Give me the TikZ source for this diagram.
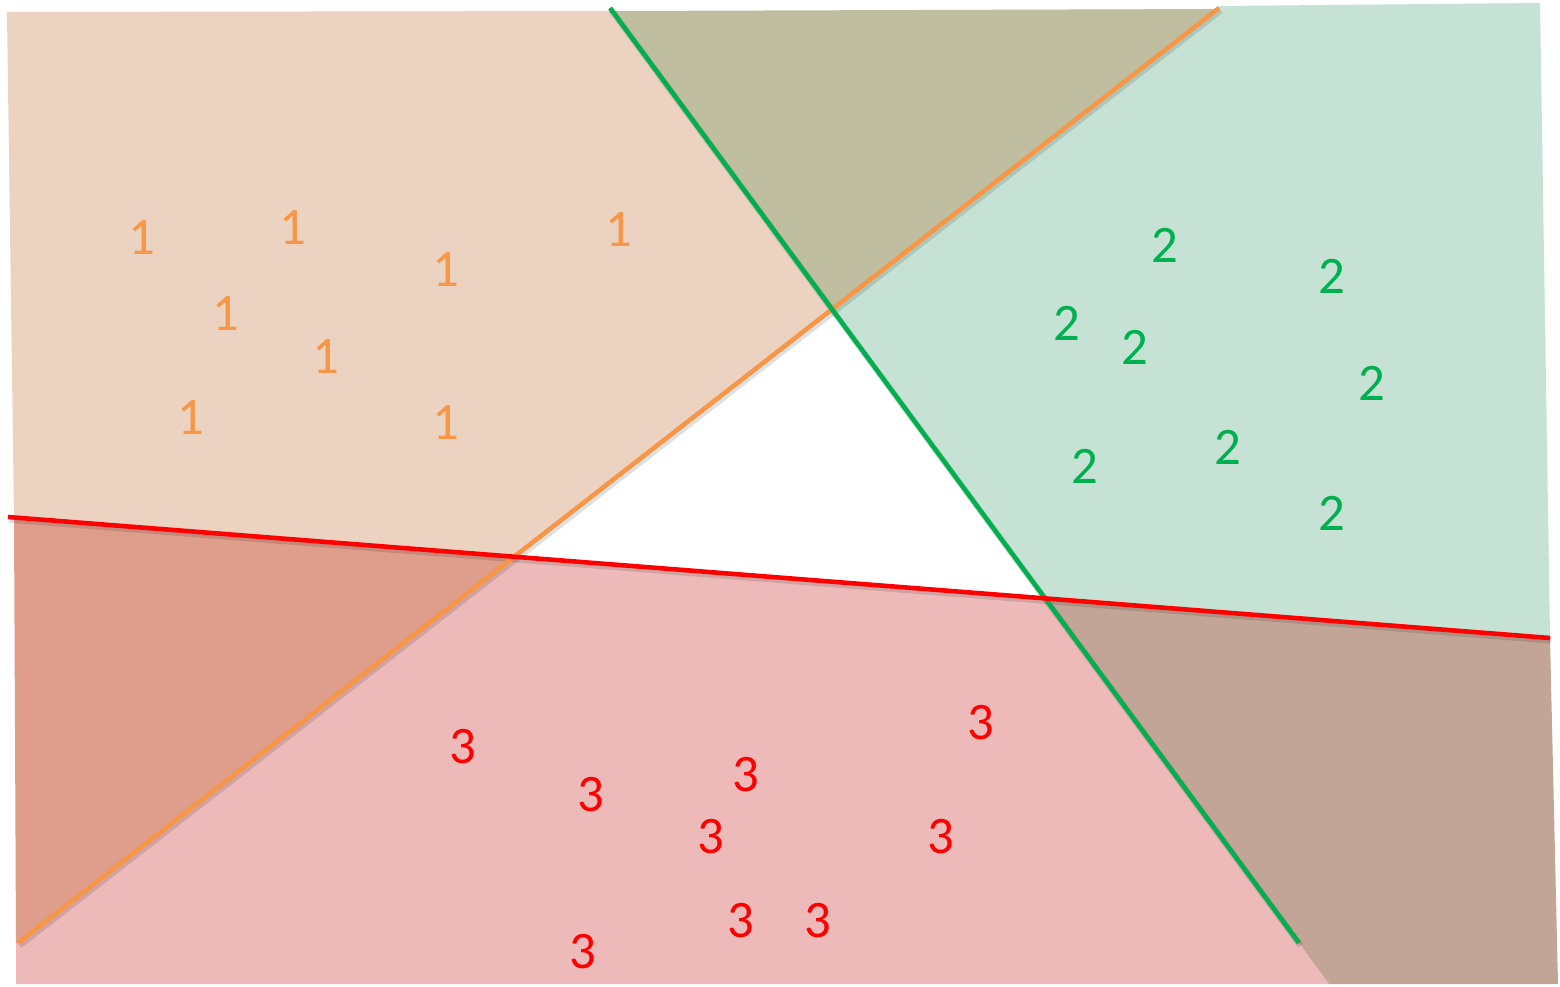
\documentclass[tikz,border=0pt]{standalone}
\usepackage{fontspec}
\setmainfont{Carlito}
\usepackage{xcolor}
\usetikzlibrary{calc}

\definecolor{oneline}{HTML}{F79646}
\definecolor{twoline}{HTML}{00B050}
\definecolor{threeline}{HTML}{FF0000}
\definecolor{onefill}{HTML}{ECD3C1}
\definecolor{twofill}{HTML}{C5E2D4}
\definecolor{threefill}{HTML}{EEB9B9}
\definecolor{onetwofill}{HTML}{BFBEA0}
\definecolor{twothreefill}{HTML}{C3A597}
\definecolor{onethreefill}{HTML}{DF9D8B}

\tikzset{
  border/.style={line width=1.3pt, line cap=butt},
  shade line/.style={line width=1.8pt, black, opacity=0.12},
  digit/.style={inner sep=0pt, font=\fontsize{15}{18}\selectfont}
}

\begin{document}
\begin{tikzpicture}[x=0.1mm, y=-0.1mm]
  \useasboundingbox[fill=white] (0,0) rectangle (1560,986);
  % end points of the three separating lines
  \coordinate (oA) at (18,943);  \coordinate (oB) at (1219,8);
  \coordinate (gA) at (610,8);   \coordinate (gB) at (1299,943);
  \coordinate (rA) at (8,517);   \coordinate (rB) at (1550,638);
  \coordinate (OG) at (intersection of oA--oB and gA--gB);
  \coordinate (OR) at (intersection of oA--oB and rA--rB);
  \coordinate (GR) at (intersection of gA--gB and rA--rB);
  \coordinate (gC) at ($(gA)!1.044!(gB)$);
  % regions
  \fill[onefill] (7,12) -- (610,11) -- (OG) -- (OR) -- (14,518) -- cycle;
  \fill[onetwofill] (610,11) -- (1219,9) -- (OG) -- cycle;
  \fill[twofill] (1219,6) -- (1540,3) -- (1550,637) -- (GR) -- (OG) -- cycle;
  \fill[onethreefill] (14,518) -- (OR) -- (oA) -- (16,943) -- cycle;
  \fill[threefill] (16,943) -- (oA) -- (OR) -- (GR) -- (gC) -- (16,984) -- cycle;
  \fill[twothreefill] (GR) -- (1550,638) -- (1558,984) -- (gC) -- cycle;
  % lines with a light shadow
  \foreach \u/\v in {oA/oB,gA/gB,rA/rB}
    \draw[shade line] ($(\u)+(1.5,2.5)$) -- ($(\v)+(1.5,2.5)$);
  \draw[border, oneline] (oA) -- (oB);
  \draw[border, twoline] (gA) -- (gB);
  \draw[border, threeline] (rA) -- (rB);
  % class labels
  \foreach \x/\y [count=\i] in {142/238,293/228,446/270,619/230,226/314,326/357,191/418,446/423}
    \node[digit, oneline] (one\i) at (\x,\y) {1};
  \foreach \x/\y [count=\i] in {1165/245,1332/276,1067/323,1135/347,1372/383,1228/447,1085/466,1332/513}
    \node[digit, twoline] (two\i) at (\x,\y) {2};
  \foreach \x/\y [count=\i] in {463/747,591/795,746/775,711/837,981/723,941/837,741/921,818/921,583/952}
    \node[digit, threeline] (three\i) at (\x,\y) {3};
\end{tikzpicture}
\end{document}
